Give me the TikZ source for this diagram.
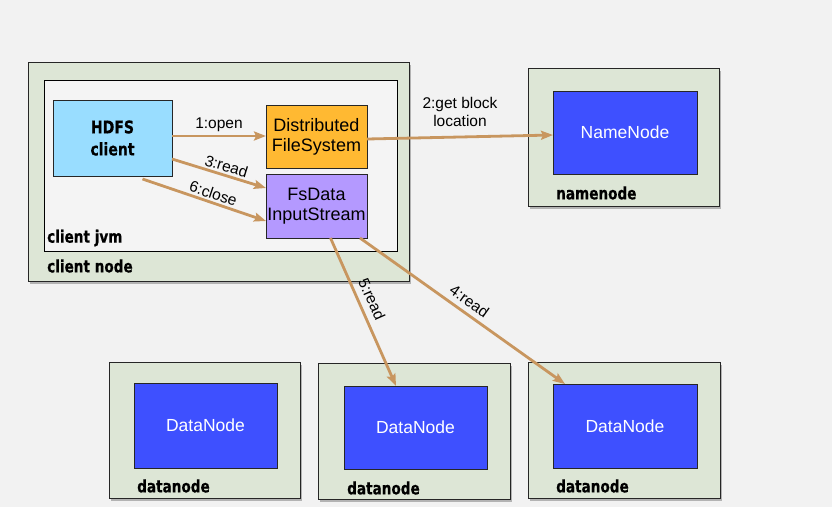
\documentclass[tikz,border=0pt]{standalone}
\usepackage{fontspec}
\setmainfont{Liberation Sans}
\newfontfamily\condfont{DejaVu Sans}[FakeStretch=0.8,FakeBold=0.6]
\usetikzlibrary{shadows,calc,arrows.meta}
\definecolor{bgc}{RGB}{242,242,242}
\definecolor{sage}{RGB}{221,230,214}
\definecolor{jvmc}{RGB}{244,244,244}
\definecolor{nodeblue}{RGB}{62,80,255}
\definecolor{hdfsc}{RGB}{153,221,255}
\definecolor{dfsc}{RGB}{255,185,50}
\definecolor{fsdc}{RGB}{180,153,255}
\definecolor{arrc}{RGB}{200,150,95}
\tikzset{
  outerbox/.style={draw=black!85, line width=0.9pt, fill=sage, inner sep=0pt, outer sep=0pt,
    drop shadow={opacity=0.55, shadow xshift=2pt, shadow yshift=-3pt}},
  jvmbox/.style={draw=black, line width=0.8pt, fill=jvmc, inner sep=0pt, outer sep=0pt},
  innerbox/.style={draw=black!85, line width=0.8pt, inner sep=0pt, outer sep=0pt, align=center},
  bluebox/.style={innerbox, fill=nodeblue, text=white, font=\fontsize{17.5}{20}\selectfont},
  boxlabel/.style={anchor=west, inner sep=0pt, font=\condfont\bfseries\fontsize{17}{19}\selectfont},
  flow/.style={draw=arrc, line width=2.8pt, -{Stealth[length=12pt,width=9pt,inset=2pt]}},
  flowlabel/.style={font=\fontsize{15.5}{18}\selectfont, inner sep=2pt}
}
\begin{document}
\begin{tikzpicture}[x=1pt,y=-1pt]
\fill[bgc] (0,0) rectangle (832,507);
\useasboundingbox (0,0) rectangle (832,507);

% client node
\node[outerbox, minimum width=381pt, minimum height=219pt] (clientnode) at (218.5,171.5) {};
\node[jvmbox, minimum width=353pt, minimum height=171pt] (clientjvm) at (220.5,165.5) {};
\node[innerbox, fill=hdfsc, minimum width=119pt, minimum height=76pt,
      font=\condfont\bfseries\fontsize{17.5}{22}\selectfont] (hdfs) at (112.5,138) {HDFS\\client};
\node[innerbox, fill=dfsc, minimum width=101pt, minimum height=63pt,
      font=\fontsize{18}{20}\selectfont] (dfs) at (316.5,136.5) {Distributed\\FileSystem};
\node[innerbox, fill=fsdc, minimum width=101pt, minimum height=64pt,
      font=\fontsize{18}{20}\selectfont] (fsd) at (316.5,206) {FsData\\InputStream};
\node[boxlabel] (jvmlabel) at (47,238) {client jvm};
\node[boxlabel] (cnlabel) at (47,266) {client node};

% namenode
\node[outerbox, minimum width=191pt, minimum height=138pt] (nnout) at (623.5,137) {};
\node[bluebox, minimum width=144pt, minimum height=83pt] (nnin) at (625,132.5) {NameNode};
\node[boxlabel] (nnlabel) at (556,193) {namenode};

% datanodes
\node[outerbox, minimum width=191pt, minimum height=136pt] (dn1out) at (204.5,430) {};
\node[bluebox, minimum width=143pt, minimum height=85pt] (dn1in) at (205.5,425.5) {DataNode};
\node[boxlabel] (dn1label) at (137,486) {datanode};

\node[outerbox, minimum width=192pt, minimum height=136pt] (dn2out) at (414,431) {};
\node[bluebox, minimum width=143pt, minimum height=83pt] (dn2in) at (415.5,427.5) {DataNode};
\node[boxlabel] (dn2label) at (347,488) {datanode};

\node[outerbox, minimum width=192pt, minimum height=136pt] (dn3out) at (624,430) {};
\node[bluebox, minimum width=144pt, minimum height=84pt] (dn3in) at (625,426) {DataNode};
\node[boxlabel] (dn3label) at (556,486) {datanode};

% flows
\draw[flow] ($(hdfs.east)+(0,-2)$) -- node[flowlabel, above=1pt] {1:open} ($(dfs.west)+(0,-0.5)$);
\draw[flow] ($(dfs.east)+(0,2.5)$) -- ($(nnin.west)+(0,2.5)$);
\node[flowlabel, align=center, font=\fontsize{15.5}{18}\selectfont] (getblock) at (460,112) {2:get block\\location};
\draw[flow] ($(hdfs.south east)+(0,-17)$) -- node[flowlabel, sloped, above=0pt, pos=0.55] {3:read} ($(fsd.north west)+(0,14)$);
\draw[flow] ($(hdfs.south)+(30,3)$) -- node[flowlabel, sloped, above=0pt, pos=0.55] {6:close} ($(fsd.west)+(0,15)$);
\draw[flow] ($(fsd.south)+(14,0)$) -- node[flowlabel, sloped, above=4pt, pos=0.45] {5:read} ($(dn2in.north west)+(52,0)$);
\draw[flow] ($(fsd.south east)+(-7,0)$) -- node[flowlabel, sloped, above=3pt, pos=0.5] {4:read} ($(dn3in.north west)+(12,0)$);
\end{tikzpicture}
\end{document}
